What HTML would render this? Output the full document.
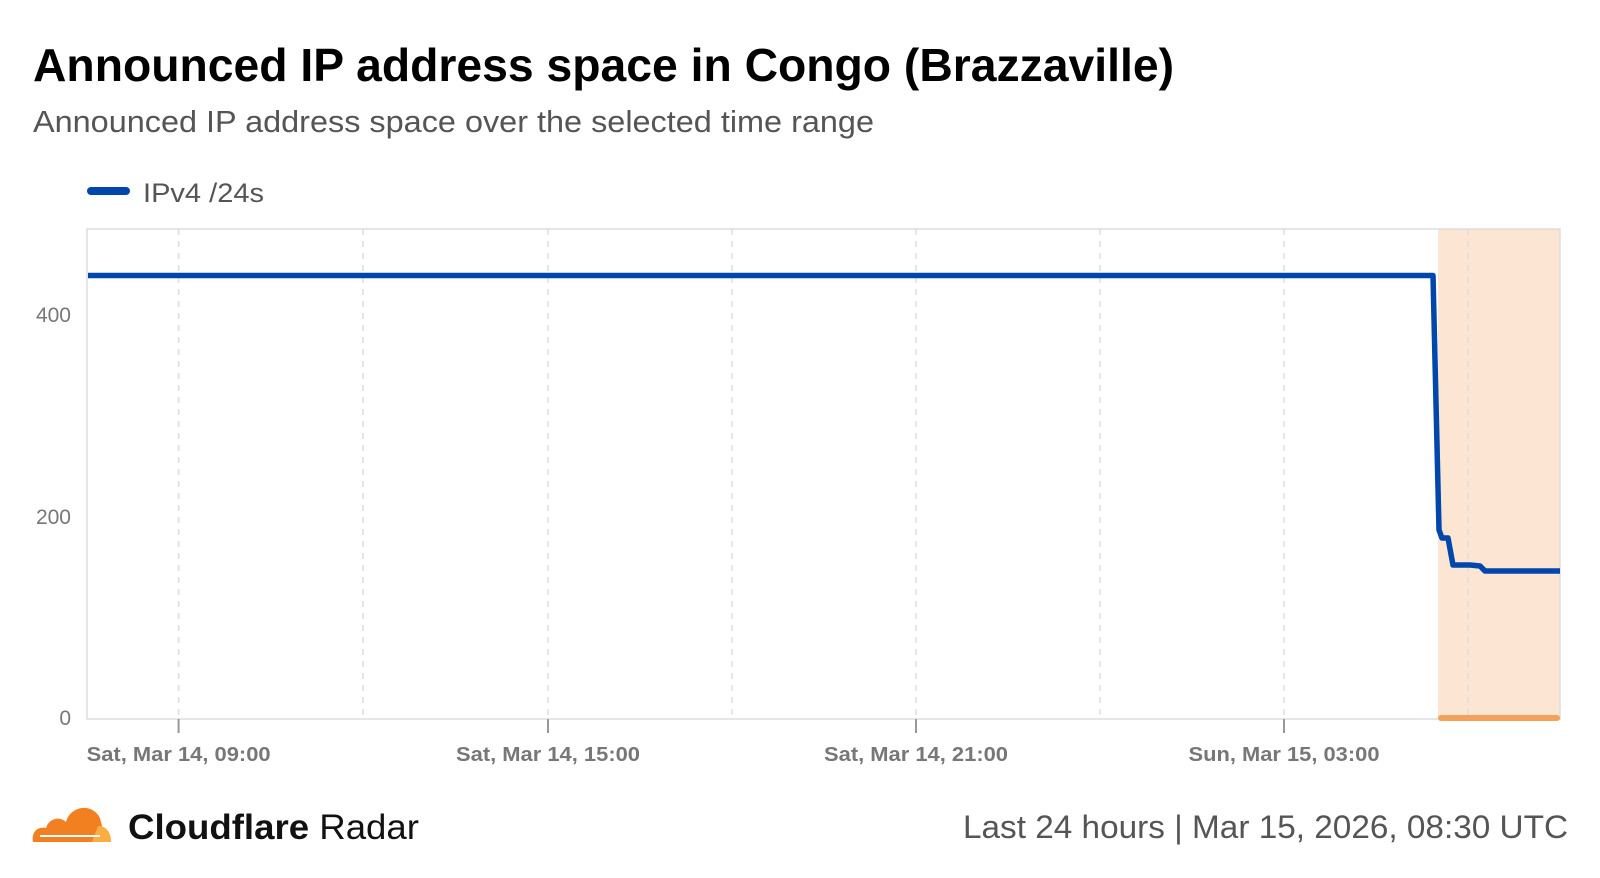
<!DOCTYPE html>
<html><head><meta charset="utf-8"><style>
html,body{margin:0;padding:0;background:#fff;}
svg{display:block;font-family:"Liberation Sans",sans-serif;}
</style></head><body>
<svg width="1600" height="878" viewBox="0 0 1600 878" xmlns="http://www.w3.org/2000/svg">
<text x="33" y="81" font-size="46" font-weight="bold" fill="#000" textLength="1141" lengthAdjust="spacingAndGlyphs">Announced IP address space in Congo (Brazzaville)</text>
<text x="33" y="132" font-size="31" fill="#555" textLength="841" lengthAdjust="spacingAndGlyphs">Announced IP address space over the selected time range</text>
<line x1="91" y1="191" x2="126" y2="191" stroke="#0047ab" stroke-width="8" stroke-linecap="round"/>
<text x="143" y="202" font-size="27" fill="#555" textLength="121" lengthAdjust="spacingAndGlyphs">IPv4 /24s</text>
<rect x="1438" y="229" width="122" height="490" fill="#fde5d3"/>
<g stroke="#ddd" stroke-width="1.5" stroke-dasharray="6,6">
<line x1="178.6" y1="229" x2="178.6" y2="719"/><line x1="363" y1="229" x2="363" y2="719"/>
<line x1="548" y1="229" x2="548" y2="719"/><line x1="732" y1="229" x2="732" y2="719"/>
<line x1="916" y1="229" x2="916" y2="719"/><line x1="1100" y1="229" x2="1100" y2="719"/>
<line x1="1284" y1="229" x2="1284" y2="719"/><line x1="1468" y1="229" x2="1468" y2="719"/>
</g>
<rect x="87" y="229" width="1473" height="490" fill="none" stroke="#ddd" stroke-width="1.5"/>
<g stroke="#999" stroke-width="2">
<line x1="178.6" y1="719" x2="178.6" y2="733"/><line x1="548" y1="719" x2="548" y2="733"/>
<line x1="916" y1="719" x2="916" y2="733"/><line x1="1284" y1="719" x2="1284" y2="733"/>
</g>
<line x1="1441" y1="718" x2="1557" y2="718" stroke="#f4a15b" stroke-width="6" stroke-linecap="round"/>
<g font-size="21" fill="#777" text-anchor="end">
<text x="71" y="322">400</text><text x="71" y="524">200</text><text x="71" y="725">0</text>
</g>
<g font-size="20" font-weight="bold" fill="#777" text-anchor="middle">
<text x="178.6" y="761" textLength="184" lengthAdjust="spacingAndGlyphs">Sat, Mar 14, 09:00</text>
<text x="548" y="761" textLength="184" lengthAdjust="spacingAndGlyphs">Sat, Mar 14, 15:00</text>
<text x="916" y="761" textLength="184" lengthAdjust="spacingAndGlyphs">Sat, Mar 14, 21:00</text>
<text x="1284" y="761" textLength="191" lengthAdjust="spacingAndGlyphs">Sun, Mar 15, 03:00</text>
</g>
<polyline fill="none" stroke="#0047ab" stroke-width="5.5" stroke-linejoin="round" points="88,275.5 1433,275.5 1439,530 1442,538 1448,538 1453,565 1470,565 1480,566 1485,571 1560,571"/>
<g>
<path d="M33,842 C31,832 38,826 46,828 C49,818 60,816 66,822 C70,806 92,802 100,818 L103,830 C106,831 107,834 104,836 L96,842 Z" fill="#f38020"/>
<path d="M98,826 C106,826 111,832 111,842 L92,842 Z" fill="#fbad41"/>
<line x1="40" y1="836" x2="100" y2="836" stroke="#fff" stroke-width="2"/>
</g>
<text x="128" y="839" font-size="35" font-weight="bold" fill="#111" textLength="291" lengthAdjust="spacingAndGlyphs">Cloudflare<tspan font-weight="normal"> Radar</tspan></text>
<text x="1568" y="838" font-size="32" fill="#555" text-anchor="end" textLength="605" lengthAdjust="spacingAndGlyphs">Last 24 hours  |  Mar 15, 2026, 08:30 UTC</text>
</svg>
</body></html>
